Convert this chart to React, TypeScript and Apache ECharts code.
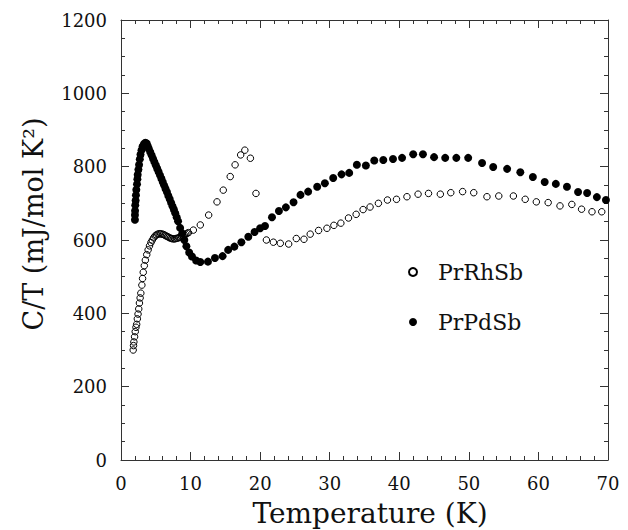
import React, { useEffect, useRef } from "react";
import * as echarts from "echarts";

const seriesNames = ["PrRhSb", "PrPdSb"];

// PrRhSb (open circles): temperature (K), C/T (mJ/mol K^2)
const rhT = [1.75, 1.8, 1.85, 1.95, 2.05, 2.15, 2.25, 2.35, 2.45, 2.55, 2.65, 2.75, 2.85, 3.0, 3.1, 3.2, 3.35, 3.5, 3.7, 3.9, 4.1, 4.3, 4.5, 4.7, 4.9, 5.1, 5.3, 5.5, 5.7, 5.9, 6.1, 6.3, 6.5, 6.7, 6.9, 7.1, 7.3, 7.5, 7.7, 7.9, 8.1, 8.3, 8.5, 8.7, 8.9, 9.1, 9.3, 9.5, 9.7, 10.4, 11.4, 12.6, 13.8, 14.7, 15.7, 16.4, 17.2, 17.8, 18.6, 19.4, 20.9, 21.9, 22.9, 24.1, 25.2, 26.3, 27.2, 28.4, 29.6, 30.6, 31.6, 32.7, 33.8, 34.8, 35.8, 37.0, 38.3, 39.6, 41.1, 42.7, 44.2, 45.9, 47.4, 49.1, 50.7, 52.6, 54.3, 56.4, 58.1, 59.7, 61.4, 63.1, 64.8, 66.2, 67.7, 69.1];
const rhC = [300, 312, 322, 336, 350, 362, 370, 385, 398, 412, 428, 442, 455, 477, 495, 512, 530, 545, 560, 573, 584, 593, 600, 606, 611, 614, 616, 617, 617, 616, 615, 613, 611, 609, 607, 605, 604, 603, 603, 604, 605, 606, 608, 610, 612, 614, 616, 618, 620, 627, 641, 668, 704, 736, 773, 805, 832, 845, 823, 727, 600, 594, 591, 589, 604, 602, 616, 626, 632, 640, 646, 660, 670, 683, 690, 700, 709, 711, 718, 725, 727, 725, 729, 732, 729, 718, 720, 720, 711, 704, 702, 693, 697, 684, 677, 677];

// PrPdSb (filled circles)
const pdT = [2.0, 2.0, 2.02, 2.05, 2.1, 2.15, 2.2, 2.3, 2.35, 2.4, 2.5, 2.6, 2.7, 2.8, 2.95, 3.1, 3.3, 3.5, 3.7, 3.85, 4.0, 4.2, 4.4, 4.6, 4.8, 5.0, 5.2, 5.4, 5.6, 5.8, 6.0, 6.2, 6.4, 6.6, 6.8, 7.0, 7.2, 7.4, 7.6, 7.8, 8.0, 8.2, 8.5, 8.8, 9.1, 9.4, 9.8, 10.2, 10.8, 11.4, 12.5, 13.5, 14.6, 15.4, 16.3, 17.3, 18.3, 19.2, 20.0, 20.7, 21.7, 22.7, 23.7, 24.8, 25.8, 26.9, 28.2, 29.3, 30.5, 31.7, 32.8, 33.9, 35.2, 36.4, 37.7, 39.1, 40.4, 42.0, 43.4, 45.0, 46.6, 48.2, 49.9, 51.9, 53.5, 55.5, 57.4, 59.2, 60.9, 62.5, 64.1, 65.7, 67.0, 68.4, 69.7];
const pdC = [655, 668, 680, 695, 708, 722, 737, 752, 766, 778, 792, 805, 820, 833, 845, 855, 862, 865, 863, 856, 849, 840, 831, 822, 813, 804, 795, 786, 777, 768, 758, 749, 740, 731, 721, 712, 702, 692, 683, 673, 662, 651, 633, 618, 600, 583, 566, 555, 544, 540, 541, 551, 556, 573, 582, 594, 609, 622, 632, 638, 662, 679, 689, 703, 723, 732, 745, 755, 769, 779, 783, 805, 803, 817, 818, 821, 824, 834, 834, 826, 824, 824, 824, 810, 799, 794, 785, 772, 758, 753, 745, 731, 728, 717, 709];

const xTicks = { min: 0, max: 70, interval: 10 };
const yTicks = { min: 0, max: 1200, interval: 200 };

const xTitle = "Temperature (K)";
const yTitle = "C/T (mJ/mol K\u00B2)";

const FONT = "'DejaVu Serif', 'Liberation Serif', serif";
const INK = "#111";
const AXIS = "#333";

function zip(a: number[], b: number[]) {
  return a.map((v, i) => [v, b[i]]);
}

export default function App() {
  const ref = useRef<HTMLDivElement>(null);
  useEffect(() => {
    if (!ref.current) return;
    const chart = echarts.init(ref.current, undefined, { renderer: "svg" });
    const axisCommon = {
      axisLine: { show: true, onZero: false, lineStyle: { color: AXIS, width: 1 } },
      axisTick: { show: true, inside: true, length: 8, lineStyle: { color: AXIS } },
      minorTick: { show: true, length: 4, lineStyle: { color: AXIS } },
      splitLine: { show: false },
      minorSplitLine: { show: false },
    };
    const fmt = (v: number) => String(v);
    chart.setOption({
      animation: false,
      backgroundColor: "#fff",
      grid: { left: 121, right: 20, top: 20, bottom: 70, containLabel: false },
      xAxis: [
        {
          type: "value",
          ...xTicks,
          ...axisCommon,
          minorTick: { ...axisCommon.minorTick, splitNumber: 5 },
          axisLabel: { color: INK, fontFamily: FONT, fontSize: 18, margin: 14, formatter: fmt },
        },
        {
          type: "value",
          position: "top",
          ...xTicks,
          ...axisCommon,
          minorTick: { ...axisCommon.minorTick, splitNumber: 5 },
          axisLabel: { show: false },
        },
      ],
      yAxis: [
        {
          type: "value",
          ...yTicks,
          ...axisCommon,
          minorTick: { ...axisCommon.minorTick, splitNumber: 4 },
          axisLabel: { color: INK, fontFamily: FONT, fontSize: 18, margin: 14, formatter: fmt },
        },
        {
          type: "value",
          position: "right",
          ...yTicks,
          ...axisCommon,
          minorTick: { ...axisCommon.minorTick, splitNumber: 4 },
          axisLabel: { show: false },
        },
      ],
      legend: {
        orient: "vertical",
        left: 403,
        top: 256,
        itemWidth: 8,
        itemHeight: 8,
        itemGap: 28,
        data: seriesNames,
        textStyle: { color: INK, fontFamily: FONT, fontSize: 22, padding: [0, 0, 0, 16] },
      },
      graphic: [
        {
          type: "text",
          x: 370,
          y: 513,
          style: {
            text: xTitle,
            fill: INK,
            font: `28px ${FONT}`,
            textAlign: "center",
            textVerticalAlign: "middle",
          },
        },
        {
          type: "text",
          x: 33,
          y: 224,
          rotation: Math.PI / 2,
          style: {
            text: yTitle,
            fill: INK,
            font: `27px ${FONT}`,
            textAlign: "center",
            textVerticalAlign: "middle",
          },
        },
      ],
      series: [
        {
          name: seriesNames[1],
          type: "scatter",
          data: zip(pdT, pdC),
          symbol: "circle",
          symbolSize: 8,
          itemStyle: { color: "#000", opacity: 1 },
          z: 2,
        },
        {
          name: seriesNames[0],
          type: "scatter",
          data: zip(rhT, rhC),
          symbol: "circle",
          symbolSize: 6.5,
          itemStyle: { color: "rgba(255,255,255,0)", borderColor: "#000", borderWidth: 1, opacity: 1 },
          z: 3,
        },
      ],
    });
    return () => chart.dispose();
  }, []);
  return (
    <div
      ref={ref}
      style={{ position: "absolute", left: 0, top: 0, width: 628, height: 530 }}
    />
  );
}
